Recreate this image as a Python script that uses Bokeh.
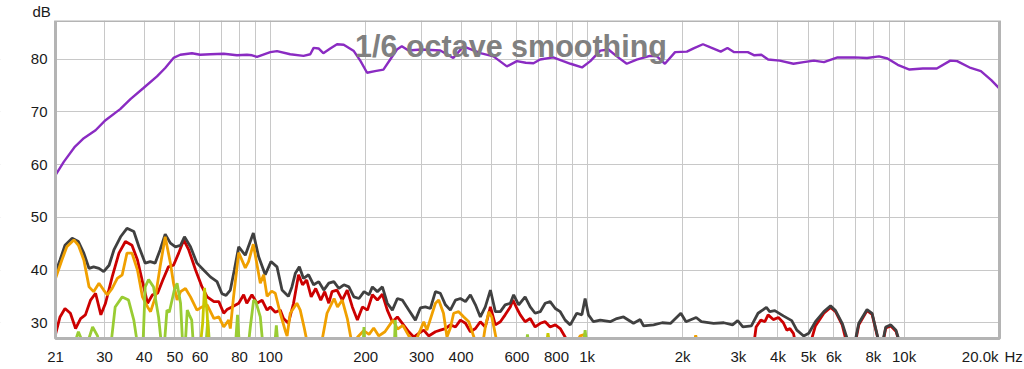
from bokeh.plotting import figure
from bokeh.models import Range1d, FixedTicker, Label, LogAxis, LinearAxis
from bokeh.embed import file_html
from bokeh.resources import INLINE
import math

# ---------------- data ----------------
x_ticks = [21, 30, 40, 50, 60, 80, 100, 200, 300, 400, 600, 800,
           1000, 2000, 3000, 4000, 5000, 6000, 8000, 10000]
x_tick_labels = ["21", "30", "40", "50", "60", "80", "100", "200", "300", "400", "600", "800",
                 "1k", "2k", "3k", "4k", "5k", "6k", "8k", "10k"]
x_end_label = "20.0k"
x_unit = "Hz"
y_unit = "dB"
x_grid = [30, 40, 50, 60, 70, 80, 90, 100, 200, 300, 400, 500, 600, 700, 800, 900,
          1000, 2000, 3000, 4000, 5000, 6000, 7000, 8000, 9000, 10000]
y_ticks = [30, 40, 50, 60, 70, 80]
chart_note = "1/6 octave smoothing"

resp_f = [21.0, 22.3, 24.2, 25.8, 28.1, 30.2, 33.6, 36.2, 39.8, 43.9, 46.6, 49.5, 52.0, 56.6, 60.1,
          64.7, 71.3, 78.5, 84.4, 87.6, 90.8, 100, 105, 115.6, 127.3, 133.7, 137, 142, 147, 154.6,
          162.4, 170.5, 183.5, 192.7, 202, 214, 227.5, 239, 251, 260, 273, 300, 344, 378, 407, 460,
          506, 558, 600, 640, 677, 710, 781, 840, 886, 963, 1023, 1100, 1167, 1240, 1333, 1433,
          1577, 1660, 1759, 1894, 2063, 2166, 2319, 2450, 2638, 2771, 2910, 3212, 3370, 3544, 3723,
          4051, 4475, 4820, 5191, 5587, 6165, 6972, 7640, 8333, 8861, 9546, 10400, 11460, 12680,
          13990, 14700, 16220, 17470, 18840, 20000]
resp_db = [58.0, 60.5, 63.4, 65.0, 66.5, 68.4, 70.5, 72.4, 74.5, 76.7, 78.3, 80.2, 80.8, 81.1, 80.8,
           80.9, 81.0, 80.7, 80.8, 80.7, 80.4, 81.3, 81.5, 80.9, 80.6, 80.9, 82.1, 82.0, 81.1, 82.0,
           82.8, 82.7, 81.5, 79.6, 77.4, 77.7, 78.0, 79.9, 81.8, 82.4, 81.6, 81.8, 81.6, 80.2, 82.4, 81.1,
           80.5, 78.6, 79.6, 79.3, 79.2, 79.9, 80.3, 79.6, 79.1, 78.4, 79.6, 81.6, 81.8, 80.5, 79.1, 79.9,
           80.6, 80.5, 79.1, 81.3, 81.4, 82.0, 82.8, 82.2, 81.4, 82.1, 81.3, 81.3, 80.7, 80.8, 79.9,
           79.7, 79.1, 79.4, 79.7, 79.4, 80.3, 80.3, 80.2, 80.5, 80.1, 78.9, 78.0, 78.2, 78.2,
           79.7, 79.6, 78.3, 77.7, 76.0, 74.4]

thd_f = [21.0, 21.7, 22.5, 23.7, 24.8, 25.8, 26.8, 27.7, 28.8, 29.8, 31.0, 32.1, 33.7, 35.3, 37.1,
         38.5, 40.3, 41.8, 43.3, 44.9, 46.6, 48.4, 50.2, 52.1, 53.6, 56.0, 58.7, 61.6, 64.7, 67.9,
         70.4, 72.5, 74.8, 77.0, 79.5, 83.4, 88.4, 91.9, 96.4, 100.5, 105, 108.9, 111.5, 114, 117,
         120, 123.5, 127.3, 132.1, 137, 142.2, 147.5, 153, 158.7, 164.6, 170.7, 177, 183.6, 190.5,
         197.6, 205, 210, 217.7, 225.8, 234, 242.8, 251.8, 261, 273.5, 287, 297.5, 308.6, 320, 332,
         344, 357, 370, 384, 398, 413, 428, 444, 460, 477, 495, 513, 532, 551, 572, 586, 608, 637,
         661, 685, 711, 737, 764, 793, 822, 852, 884, 927, 962, 985, 1009, 1046, 1100, 1182, 1240,
         1302, 1400, 1470, 1506, 1620, 1724, 1834, 1975, 2050, 2207, 2292, 2505, 2698, 2875, 2985,
         3099, 3296, 3460, 3677, 3766, 3908, 4158, 4420, 4587, 4821, 5003, 5250, 5582, 5860, 6077,
         6378, 6694, 6900, 7194, 7640, 7925, 8317, 8500, 8752, 9080, 9424, 9660, 10000]
thd_db = [39.5, 41.9, 44.7, 46.0, 45.4, 43.2, 40.3, 40.6, 40.3, 39.7, 40.9, 43.8, 46.3, 47.9, 47.3,
          44.4, 41.3, 41.6, 41.3, 43.8, 46.8, 45.1, 44.4, 44.7, 46.3, 44.4, 41.3, 40.0, 38.7, 37.8,
          35.5, 35.2, 36.2, 40.0, 44.4, 42.8, 47.0, 42.5, 39.1, 41.6, 40.6, 36.2, 35.6, 35.0, 36.8,
          39.4, 40.6, 38.4, 39.1, 37.2, 37.8, 36.2, 37.5, 37.8, 36.5, 37.2, 36.8, 34.9, 34.6,
          35.9, 35.3, 36.8, 35.9, 36.8, 33.7, 32.4, 34.6, 34.3, 32.4, 30.5, 32.8, 33.0, 32.7, 35.9,
          35.6, 33.4, 32.4, 34.3, 34.6, 34.0, 35.3, 33.4, 31.1, 33.0, 36.2, 32.1, 32.1, 33.4, 33.7, 35.3, 33.4, 34.9,
          33.0, 31.8, 32.1, 33.7, 34.0, 32.7, 32.1, 30.5, 29.6, 31.8, 31.5, 34.6, 31.5, 30.2, 30.5, 30.2, 30.8,
          31.1, 29.9, 30.6, 29.4, 29.6, 30.0, 29.9, 31.8, 30.2, 31.0, 30.2, 29.9, 30.0, 29.6, 30.4,
          29.2, 29.4, 31.8, 32.9, 32.1, 32.3, 31.3, 30.4, 28.6, 27.5, 28.0, 30.2, 32.1, 33.2, 32.3,
          29.9, 26.0, 24.5, 29.9, 32.5, 31.8, 26.5, 25.5, 29.2, 29.6, 28.6, 26.5, 20.0]

h2_f = [21.0, 21.7, 22.5, 23.4, 24.3, 25.2, 26.1, 27.1, 28.1, 29.2, 30.2, 31.7, 33.3, 34.9, 36.6,
        38.1, 39.5, 41.0, 42.5, 44.1, 45.8, 47.7, 49.5, 51.4, 53.3, 55.3, 58.1, 60.9, 63.2, 66.4,
        68.8, 71.3, 73.0, 75.7, 79.5, 82.4, 84.3, 87.5, 90.8, 94.2, 97.7, 100, 103.7, 107.5, 110.1,
        114, 118.4, 122.8, 126.4, 130.3, 134.6, 139.1, 144.3, 148.5, 153, 156.6, 162.4, 168.7, 174.9,
        181.5, 188.3, 195.3, 202.6, 210, 217.7, 225.8, 234, 242.8, 251.8, 261, 273.5, 283.6, 294,
        305, 316, 332, 344, 357, 370, 384, 398, 413, 428, 444, 460, 477, 495, 513, 532, 551, 572,
        583, 600, 615, 637, 661, 685, 711, 737, 764, 793, 822, 852, 880, 3340, 3412, 3530, 3636,
        3723, 3865, 4012, 4158, 4265, 4363, 4474, 4590, 5003, 5250, 5582, 5860, 6077, 6378, 6600,
        6900, 7194, 7640, 7925, 8317, 8500, 8752, 9080, 9424, 9660, 10000]
h2_db = [27.8, 31.1, 32.7, 31.8, 28.9, 30.8, 31.5, 34.3, 35.6, 31.5, 33.7, 38.7, 43.2, 45.4, 44.7,
         41.9, 37.8, 33.7, 35.3, 35.6, 38.1, 40.6, 40.9, 43.2, 45.7, 43.8, 40.0, 36.8, 34.9, 34.0,
         34.0, 31.8, 32.5, 33.0, 33.7, 35.3, 33.7, 35.3, 33.7, 34.3, 32.4, 33.0, 32.0, 32.4, 30.8,
         29.9, 33.7, 39.1, 37.2, 38.1, 34.9, 36.5, 34.3, 35.9, 33.7, 35.9, 36.2, 34.3, 36.2,
         33.0, 30.5, 33.0, 32.4, 35.3, 34.3, 35.4, 32.4, 30.2, 31.1, 29.9, 28.3, 27.3, 28.0,
         28.6, 27.5, 28.3, 28.6, 28.9, 29.6, 29.2, 30.5, 29.9, 28.3, 28.9, 30.2, 29.2, 33.0, 29.6, 30.2, 31.5, 33.0,
         34.3, 32.7, 31.5, 30.2, 30.8, 29.2, 29.9, 30.2, 29.2, 29.6, 28.9, 27.3, 25.0, 25.0, 29.2, 30.5, 30.2,
         31.5, 30.6, 31.0, 30.0, 28.6, 28.9, 28.0, 25.0, 25.0, 29.4, 31.8, 32.9, 32.1, 29.6, 26.0,
         24.0, 29.6, 32.3, 31.6, 26.3, 25.0, 29.0, 29.4, 28.4, 26.3, 20.0]

h3_f = [21.0, 22.0, 22.8, 24.0, 24.8, 25.8, 26.8, 27.7, 28.8, 29.8, 30.6, 31.7, 32.9, 34.1, 35.3,
        36.6, 38.1, 39.5, 41.0, 41.9, 43.4, 44.9, 46.6, 48.4, 49.5, 50.8, 52.1, 54.0, 56.0, 58.7,
        60.9, 63.2, 66.4, 68.8, 71.3, 73.9, 74.8, 76.6, 79.5, 83.4, 85.4, 88.4, 90.8, 93, 95.3,
        97.7, 101, 103.7, 107.5, 111.5, 113, 115.6, 121.3, 124.3, 128, 131, 145, 151, 159, 163,
        168.7, 175, 181, 190, 197, 205, 212, 220, 230, 244, 252, 262, 273, 285, 297.5, 305, 312,
        332, 340, 352, 361, 370, 379, 393, 408, 423, 439, 450, 468, 477, 489, 500, 510, 520,
        900, 950, 985, 1010, 2150, 2200, 2250, 3000]
h3_db = [38.4, 41.9, 44.4, 45.7, 44.7, 41.9, 36.8, 35.9, 37.5, 36.2, 35.3, 36.5, 38.4, 39.1, 43.2,
         43.2, 40.0, 34.9, 33.0, 32.1, 34.9, 40.6, 46.3, 41.3, 37.5, 34.3, 35.9, 36.5, 34.9, 32.4,
         33.0, 33.4, 30.8, 31.1, 29.2, 30.5, 28.9, 35.0, 43.3, 40.4, 41.6, 44.9, 41.0, 37.5, 39.1,
         35.0, 36.0, 35.6, 31.8, 28.5, 27.5, 31.8, 33.7, 32.4, 29.0, 26.0, 26.0, 31.8, 34.6, 33.0,
         34.3, 30.8, 26.0, 27.5, 28.5, 27.8, 29.0, 27.5, 28.3, 30.5, 28.8, 29.5, 27.6, 26.0, 28.6, 30.2, 28.6,
         33.7, 34.3, 31.8, 27.3, 29.0, 31.8, 32.1, 31.1, 30.2, 27.3, 25.0, 26.0, 29.2, 32.1, 31.1, 28.6, 26.0,
         25.0, 27.5, 27.8, 25.0, 25.0, 27.6, 25.0, 20.0]

h4_f = [21.0, 23.8, 24.8, 25.7, 26.6, 27.5, 28.5, 29.0, 31.3, 32.4, 34.1, 35.7, 37.1, 38.3, 39.6,
        40.3, 41.3, 42.8, 44.4, 45.5, 46.2, 47.2, 48.0, 49.8, 50.8, 52.1, 53.0, 53.8, 54.7, 55.5,
        56.5, 57.3, 62.5, 63.5, 64.5, 77.5, 78.8, 80, 85, 86.5, 88.6, 90, 93, 95, 103, 104.5, 106,
        196, 197.5, 199, 246, 248, 250, 640, 648, 656, 970, 985, 1000, 2000]
h4_db = [20.0, 25.0, 28.3, 26.0, 26.5, 29.2, 27.5, 25.0, 25.0, 33.0, 34.9, 34.3, 30.5, 25.0, 25.0,
         36.8, 38.2, 36.8, 31.1, 25.0, 25.0, 32.4, 32.0, 36.2, 37.5, 33.7, 25.0, 25.0, 32.4, 31.5,
         30.5, 25.0, 25.0, 30.5, 25.0, 25.0, 31.5, 25.0, 25.0, 29.2, 34.3, 34.0, 31.1, 25.0, 25.0, 29.5, 25.0,
         25.0, 29.2, 25.0, 25.0, 30.5, 25.0, 25.0, 27.8, 25.0, 25.0, 28.6, 25.0, 20.0]

h5_f = [55.0, 60.0, 61.2, 62.0, 63.2, 64.0, 740, 752, 765, 1000]
h5_db = [20.0, 25.0, 30.0, 36.6, 31.8, 25.0, 25.0, 28.0, 25.0, 20.0]

# ---------------- layout geometry ----------------
FONT = "Liberation Sans"
TXT = "#1a1a1a"
W, H = 1024, 367
LEFT, TOP = 55, 19               # plot box left / top edge (px)
BOX_W, BOX_H = 944, 319          # plot box size (px)
X0, X1 = 21.0, 20000.0           # visible frequency span
Y0, Y1 = 27.0, 87.3              # visible level span
# the drawing frame covers the whole canvas below the title so that every label fits in it
px_per_dec = BOX_W / math.log10(X1 / X0)
x_frame_start = X0 / 10 ** (LEFT / px_per_dec)
x_frame_end = X1 * 10 ** ((W - LEFT - BOX_W) / px_per_dec)
px_per_db = BOX_H / (Y1 - Y0)
y_frame_start = Y0 - (H - TOP - BOX_H) / px_per_db

p = figure(width=W, height=H, x_axis_type="log", x_axis_location=None, y_axis_location=None,
           x_range=Range1d(x_frame_start, x_frame_end), y_range=Range1d(y_frame_start, Y1),
           output_backend="svg", toolbar_location=None,
           min_border_left=0, min_border_right=0, min_border_top=TOP, min_border_bottom=0)
p.background_fill_color = "white"
p.border_fill_color = "white"
p.outline_line_color = None

# "dB" unit as a left-aligned title above the y axis labels
p.title.text = y_unit
p.title.align = "left"
p.title.offset = 32
p.title.standoff = 1
p.title.text_font = FONT
p.title.text_font_size = "15px"
p.title.text_font_style = "normal"
p.title.text_color = TXT


def style_axis(ax):
    ax.axis_line_color = None
    ax.major_tick_line_color = None
    ax.minor_tick_line_color = None
    ax.major_tick_out = 0
    ax.major_tick_in = 0
    ax.minor_tick_out = 0
    ax.minor_tick_in = 0
    ax.major_label_text_font = FONT
    ax.major_label_text_font_size = "15px"
    ax.major_label_text_color = TXT


yaxis = LinearAxis(fixed_location=X0, ticker=FixedTicker(ticks=y_ticks), major_label_standoff=8)
style_axis(yaxis)
p.add_layout(yaxis, "left")

xaxis = LogAxis(fixed_location=Y0, ticker=FixedTicker(ticks=x_ticks),
                major_label_overrides={t: s for t, s in zip(x_ticks, x_tick_labels)},
                major_label_standoff=9)
style_axis(xaxis)
p.add_layout(xaxis, "below")

p.xgrid.ticker = FixedTicker(ticks=x_grid)
p.ygrid.ticker = FixedTicker(ticks=y_ticks)
for g in (p.xgrid[0], p.ygrid[0]):
    g.grid_line_color = "#c8c8c8"
    g.grid_line_width = 1

p.line(h2_f, h2_db, line_color="#cc0000", line_width=2.8)
p.line(thd_f, thd_db, line_color="#404040", line_width=2.8)
p.line(h3_f, h3_db, line_color="#f0a000", line_width=2.8)
p.line(h4_f, h4_db, line_color="#99cc33", line_width=2.8)
p.line(h5_f, h5_db, line_color="#c8c800", line_width=2.8)
p.line(resp_f, resp_db, line_color="#8a2bc2", line_width=2.4)

# white mask outside the plot box (left, below and right of it), then the box border
p.quad(left=[x_frame_start, X0, X1], right=[X0, X1, x_frame_end],
       bottom=[y_frame_start, y_frame_start, y_frame_start], top=[Y1, Y0, Y1],
       fill_color="white", line_color=None)
p.quad(left=[X0], right=[X1], bottom=[Y0], top=[Y1], fill_color=None,
       line_color="#b4b4b4", line_width=3)

p.add_layout(Label(x=575, y=82.4, text=chart_note, text_align="center",
                   text_baseline="alphabetic", text_font=FONT,
                   text_font_style="bold", text_font_size="30.5px", text_color="#808080"))

label_y = Y0 - 9 / px_per_db
p.add_layout(Label(x=X1, y=label_y, x_offset=-1, text=x_end_label, text_align="right",
                   text_baseline="top", text_font=FONT, text_font_size="15px", text_color=TXT))
p.add_layout(Label(x=X1, y=label_y, x_offset=5, text=x_unit, text_align="left",
                   text_baseline="top", text_font=FONT, text_font_size="15px", text_color=TXT))

open("out.html", "w").write(file_html(p, INLINE))
